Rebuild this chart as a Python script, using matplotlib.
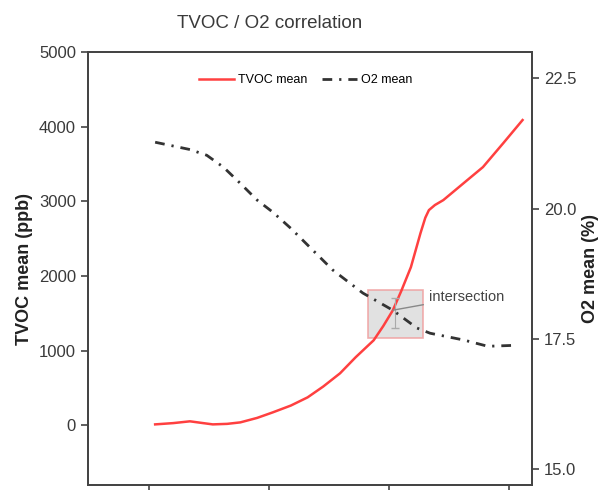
import matplotlib.pyplot as plt
from matplotlib.patches import Rectangle

plt.rcParams['font.family'] = ['Liberation Sans', 'DejaVu Sans']

# (x in tick units)
x_tvoc = [1.05, 1.20, 1.34, 1.45, 1.53, 1.65, 1.76, 1.90, 2.03, 2.18, 2.32, 2.45,
          2.59, 2.72, 2.87, 2.95, 3.03, 3.10, 3.18, 3.26, 3.30, 3.33, 3.38, 3.45,
          3.62, 3.78, 3.95, 4.11]
tvoc = [13, 30, 54, 30, 13, 20, 40, 100, 174, 265, 375, 520,
        697, 912, 1139, 1330, 1542, 1800, 2118, 2574, 2780, 2882, 2950, 3016,
        3244, 3458, 3780, 4088]

x_o2 = [1.05, 1.34, 1.48, 1.62, 1.76, 1.90, 2.03, 2.18, 2.32, 2.53, 2.78,
        3.03, 3.23, 3.34, 3.62, 3.82, 4.07]
o2 = [21.27, 21.13, 21.02, 20.79, 20.48, 20.16, 19.93, 19.62, 19.30, 18.82, 18.38,
      18.05, 17.71, 17.61, 17.48, 17.36, 17.38]

x_ticks = [1, 2, 3, 4]
tvoc_ticks = [0, 1000, 2000, 3000, 4000, 5000]
o2_ticks = [15.0, 17.5, 20.0, 22.5]

cross_x, cross_tvoc = 3.03, 1542

txt = '#3a3a3a'
spine = '#444444'

fig = plt.figure(figsize=(6.02, 4.90), dpi=100)
ax = fig.add_axes([0.146, 0.010, 0.738, 0.884])
ax2 = ax.twinx()

l1, = ax.plot(x_tvoc, tvoc, color='#ff4040', lw=1.8, label='TVOC mean')
l2, = ax2.plot(x_o2, o2, color='#333333', lw=2.0,
               linestyle=(0, (3.5, 2.5, 0.8, 2.5)), label='O2 mean')

ax.set_xlim(0.49, 4.19)
ax.set_ylim(-800, 5000)
ax2.set_ylim(14.7, 23.0)
ax.set_xticks(x_ticks)
ax.set_xticklabels([])
ax.set_yticks(tvoc_ticks)
ax2.set_yticks(o2_ticks)
ax2.set_yticklabels([f'{v:.1f}' for v in o2_ticks])

for a in (ax, ax2):
    for s in a.spines.values():
        s.set_color(spine)
        s.set_linewidth(1.3)
    a.tick_params(direction='out', length=5, width=1.2, color=spine,
                  labelsize=12, labelcolor=txt)

ax.set_ylabel('TVOC mean (ppb)', fontsize=13, fontweight='bold', color='#222222', labelpad=4)
ax2.set_ylabel('O2 mean (%)', fontsize=13, fontweight='bold', color='#222222', labelpad=4)

# intersection highlight
ax.add_patch(Rectangle((2.82, 1166), 0.46, 644, facecolor='#dcdcdc',
                       edgecolor='#f0a0a0', lw=1.2, alpha=0.85, zorder=1))
ax.errorbar([3.05], [1500], yerr=[[200], [200]], color='#aaaaaa', lw=0.8,
            capsize=3, zorder=2)
ax.annotate('intersection', xy=(cross_x, cross_tvoc),
            xytext=(3.33, 1720), fontsize=10.5, color='#444444', va='center',
            arrowprops=dict(arrowstyle='-', color='#888888', lw=1, shrinkA=2, shrinkB=0))

ax.legend([l1, l2], ['TVOC mean', 'O2 mean'], loc='upper center',
          bbox_to_anchor=(0.49, 0.975), ncol=2, frameon=False, fontsize=9,
          handlelength=2.8, columnspacing=1.2, handletextpad=0.3)

fig.text(270 / 602, 1 - 23 / 490, 'TVOC / O2 correlation', ha='center',
         va='center', fontsize=13.5, color=txt)

fig.savefig('out.png', dpi=100)
